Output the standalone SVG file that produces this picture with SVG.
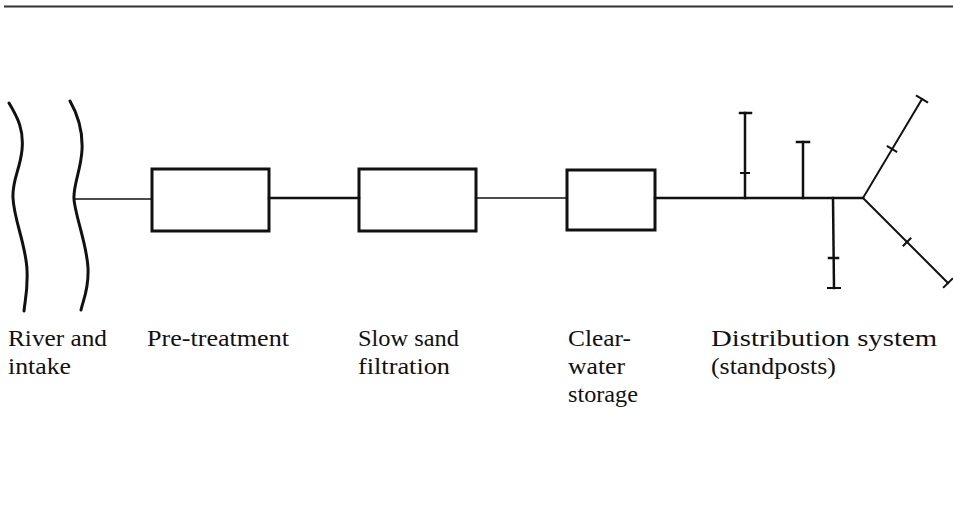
<svg xmlns="http://www.w3.org/2000/svg" width="953" height="519" viewBox="0 0 953 519">
<style>
.box{fill:none;stroke:#111;stroke-width:3}
.wave{fill:none;stroke:#111;stroke-width:3;stroke-linecap:round}
.ln{stroke:#111;fill:none;stroke-linecap:square}
.t{font-family:"Liberation Serif","Times New Roman",serif;font-size:23px;fill:#111}
</style>
<rect width="953" height="519" fill="#fff"/>
<line x1="4" y1="6.5" x2="953" y2="6.5" stroke="#333" stroke-width="2"/>
<g id="river">
<path class="wave" d="M9,103 C18,118 24,130 22,150 C20,170 12,180 13,198 C14,220 26,245 27,270 C28,290 25,300 24,311"/>
<path class="wave" d="M70,101 C78,115 83,130 82,150 C81,170 73,185 74,199 C75,215 87,245 88,268 C89,290 83,300 81,310"/>
<text class="t" x="8" y="346" textLength="99" lengthAdjust="spacingAndGlyphs">River and</text>
<text class="t" x="8" y="374" textLength="63" lengthAdjust="spacingAndGlyphs">intake</text>
</g>
<g id="pretreatment">
<rect class="box" x="152" y="169" width="117" height="62"/>
<text class="t" x="147" y="346" textLength="142" lengthAdjust="spacingAndGlyphs">Pre-treatment</text>
</g>
<g id="slowsand">
<rect class="box" x="359" y="169" width="117" height="62"/>
<text class="t" x="358" y="346" textLength="101" lengthAdjust="spacingAndGlyphs">Slow sand</text>
<text class="t" x="358" y="374" textLength="92" lengthAdjust="spacingAndGlyphs">filtration</text>
</g>
<g id="clearwater">
<rect class="box" x="567" y="170" width="88" height="60"/>
<text class="t" x="568" y="346" textLength="63" lengthAdjust="spacingAndGlyphs">Clear-</text>
<text class="t" x="568" y="374" textLength="57" lengthAdjust="spacingAndGlyphs">water</text>
<text class="t" x="568" y="402" textLength="70" lengthAdjust="spacingAndGlyphs">storage</text>
</g>
<g id="distribution">
<line class="ln" x1="655" y1="198" x2="863" y2="198" stroke-width="2.5"/>
<line class="ln" x1="745" y1="198" x2="745" y2="113" stroke-width="2.5"/>
<line class="ln" x1="740" y1="113" x2="751" y2="113" stroke-width="2.5"/>
<line class="ln" x1="741" y1="173" x2="749" y2="173" stroke-width="2"/>
<line class="ln" x1="803" y1="198" x2="803" y2="142" stroke-width="2.5"/>
<line class="ln" x1="797" y1="142" x2="809" y2="142" stroke-width="2.5"/>
<line class="ln" x1="833" y1="198" x2="834" y2="288" stroke-width="2.5"/>
<line class="ln" x1="828" y1="288" x2="840" y2="288" stroke-width="2"/>
<line class="ln" x1="829" y1="258" x2="838" y2="258" stroke-width="2.5"/>
<line class="ln" x1="863" y1="198" x2="922" y2="99" stroke-width="2"/>
<line class="ln" x1="916.8" y1="95.9" x2="927.2" y2="102.1" stroke-width="2"/>
<line class="ln" x1="887.7" y1="146.4" x2="896.3" y2="151.6" stroke-width="2"/>
<line class="ln" x1="863" y1="198" x2="948" y2="283" stroke-width="2"/>
<line class="ln" x1="943.8" y1="287.2" x2="952.2" y2="278.8" stroke-width="2"/>
<line class="ln" x1="903.5" y1="245.5" x2="910.5" y2="238.5" stroke-width="2"/>
<text class="t" x="711" y="346" textLength="226" lengthAdjust="spacingAndGlyphs">Distribution system</text>
<text class="t" x="711" y="374" textLength="125" lengthAdjust="spacingAndGlyphs">(standposts)</text>
</g>
<g id="connectors">
<line class="ln" x1="74" y1="199" x2="152" y2="199" stroke-width="1.5"/>
<line class="ln" x1="269" y1="198" x2="359" y2="198" stroke-width="2.5"/>
<line class="ln" x1="476" y1="198" x2="567" y2="198" stroke-width="1.5"/>
</g>
</svg>
